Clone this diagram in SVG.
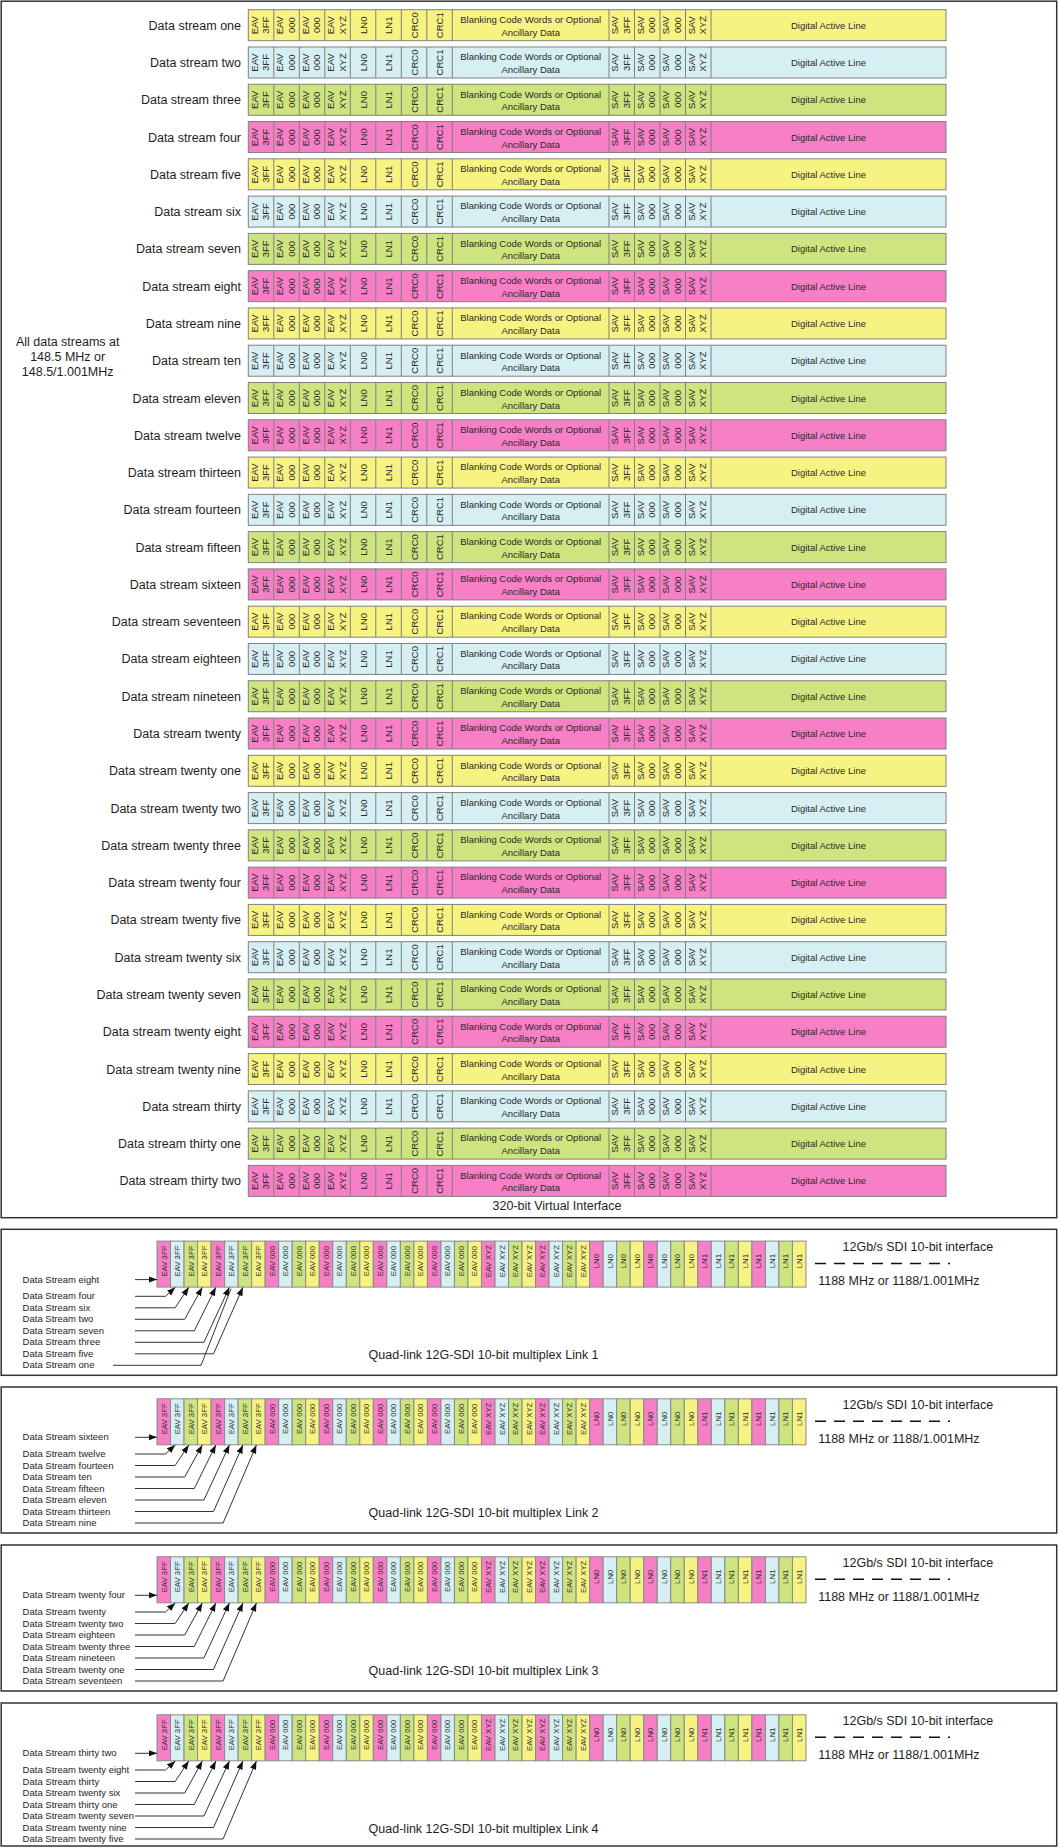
<svg xmlns="http://www.w3.org/2000/svg" xmlns:xlink="http://www.w3.org/1999/xlink" width="1059" height="1848" viewBox="0 0 1059 1848">
<defs>
<style>
text{font-family:"Liberation Sans",Arial,Helvetica,sans-serif;fill:#1e1e1e}
.lb{font-size:12.5px;text-anchor:end}
.big{font-size:12.5px}
.mid{text-anchor:middle}
.c{font-size:9.5px;text-anchor:middle;fill:#2a2a2a}
.v text{font-size:9.5px;text-anchor:middle;fill:#2a2a2a}
.vs text{font-size:7.8px;text-anchor:middle;fill:#2a2a2a}
.sm{font-size:9.5px}
.fr{fill:none;stroke:#333;stroke-width:1.5}
.r{stroke:#808080;stroke-width:1}
.dv{stroke:#808080;stroke-width:1;fill:none}
.y{fill:#f7f383}.b{fill:#d5eff3}.g{fill:#cee47e}.p{fill:#f67fc6}
.ld path{fill:none;stroke:#333;stroke-width:1}
.ar{marker-end:url(#ah)}
.dash{fill:none;stroke:#111;stroke-width:1.5;stroke-dasharray:11 8}
</style>
<marker id="ah" markerUnits="userSpaceOnUse" markerWidth="9" markerHeight="8" viewBox="-8.5 -4 9 8" refX="0" refY="0" orient="auto"><path d="M0 0L-8.5 -3.2L-8.5 3.2z" fill="#111"/></marker>
<path id="dv" class="dv" d="M273.8 0v31M299.3 0v31M324.8 0v31M350.3 0v31M375.8 0v31M401.3 0v31M426.8 0v31M452.3 0v31M609 0v31M634.5 0v31M660 0v31M685.5 0v31M711 0v31"/>
<g id="mxc" stroke="#8a8a8a" stroke-width="1">
<rect class="p" x="157" y="11.8" width="13.52" height="46"/><rect class="b" x="170.52" y="11.8" width="13.52" height="46"/><rect class="g" x="184.04" y="11.8" width="13.52" height="46"/><rect class="y" x="197.56" y="11.8" width="13.52" height="46"/>
<rect class="p" x="211.08" y="11.8" width="13.52" height="46"/><rect class="b" x="224.6" y="11.8" width="13.52" height="46"/><rect class="g" x="238.12" y="11.8" width="13.52" height="46"/><rect class="y" x="251.64" y="11.8" width="13.52" height="46"/>
<rect class="p" x="265.16" y="11.8" width="13.52" height="46"/><rect class="b" x="278.68" y="11.8" width="13.52" height="46"/><rect class="g" x="292.2" y="11.8" width="13.52" height="46"/><rect class="y" x="305.72" y="11.8" width="13.52" height="46"/>
<rect class="p" x="319.24" y="11.8" width="13.52" height="46"/><rect class="b" x="332.76" y="11.8" width="13.52" height="46"/><rect class="g" x="346.28" y="11.8" width="13.52" height="46"/><rect class="y" x="359.8" y="11.8" width="13.52" height="46"/>
<rect class="p" x="373.32" y="11.8" width="13.52" height="46"/><rect class="b" x="386.84" y="11.8" width="13.52" height="46"/><rect class="g" x="400.36" y="11.8" width="13.52" height="46"/><rect class="y" x="413.88" y="11.8" width="13.52" height="46"/>
<rect class="p" x="427.4" y="11.8" width="13.52" height="46"/><rect class="b" x="440.92" y="11.8" width="13.52" height="46"/><rect class="g" x="454.44" y="11.8" width="13.52" height="46"/><rect class="y" x="467.96" y="11.8" width="13.52" height="46"/>
<rect class="p" x="481.48" y="11.8" width="13.52" height="46"/><rect class="b" x="495" y="11.8" width="13.52" height="46"/><rect class="g" x="508.52" y="11.8" width="13.52" height="46"/><rect class="y" x="522.04" y="11.8" width="13.52" height="46"/>
<rect class="p" x="535.56" y="11.8" width="13.52" height="46"/><rect class="b" x="549.08" y="11.8" width="13.52" height="46"/><rect class="g" x="562.6" y="11.8" width="13.52" height="46"/><rect class="y" x="576.12" y="11.8" width="13.52" height="46"/>
<rect class="p" x="589.64" y="11.8" width="13.52" height="46"/><rect class="b" x="603.16" y="11.8" width="13.52" height="46"/><rect class="g" x="616.68" y="11.8" width="13.52" height="46"/><rect class="y" x="630.2" y="11.8" width="13.52" height="46"/>
<rect class="p" x="643.72" y="11.8" width="13.52" height="46"/><rect class="b" x="657.24" y="11.8" width="13.52" height="46"/><rect class="g" x="670.76" y="11.8" width="13.52" height="46"/><rect class="y" x="684.28" y="11.8" width="13.52" height="46"/>
<rect class="p" x="697.8" y="11.8" width="13.52" height="46"/><rect class="b" x="711.32" y="11.8" width="13.52" height="46"/><rect class="g" x="724.84" y="11.8" width="13.52" height="46"/><rect class="y" x="738.36" y="11.8" width="13.52" height="46"/>
<rect class="p" x="751.88" y="11.8" width="13.52" height="46"/><rect class="b" x="765.4" y="11.8" width="13.52" height="46"/><rect class="g" x="778.92" y="11.8" width="13.52" height="46"/><rect class="y" x="792.44" y="11.8" width="13.52" height="46"/>
</g>
</defs>
<rect width="1059" height="1848" fill="#fff"/>
<g id="frames">
<rect class="fr" x="1.2" y="1.2" width="1055.5" height="1216.5"/>
<rect class="fr" x="1.2" y="1229.3" width="1055.5" height="146"/>
<rect class="fr" x="1.2" y="1387" width="1055.5" height="146"/>
<rect class="fr" x="1.2" y="1545" width="1055.5" height="146"/>
<rect class="fr" x="1.2" y="1703" width="1055.5" height="143"/>
</g>
<g id="virtual-interface">
<g id="rate-note"><text class="big mid" x="67.7" y="346.1">All data streams at</text><text class="big mid" x="67.7" y="361.1">148.5 MHz or</text><text class="big mid" x="67.7" y="376.1">148.5/1.001MHz</text></g>
<text id="vi-title" class="big mid" x="557" y="1209.5">320-bit Virtual Interface</text>

<g id="ds1" transform="translate(0,9.7)"><text class="lb" x="241" y="20">Data stream one</text><rect class="r y" x="248.3" width="697.7" height="31"/><use href="#dv"/><g class="v" transform="translate(0,15.5)rotate(-90)"><text y="257.7">EAV</text><text y="269.1">3FF</text><text y="283.2">EAV</text><text y="294.6">000</text><text y="308.7">EAV</text><text y="320.1">000</text><text y="334.2">EAV</text><text y="345.6">XYZ</text><text y="366.5">LN0</text><text y="392">LN1</text><text y="417.5">CRC0</text><text y="443">CRC1</text><text y="618.4">SAV</text><text y="629.8">3FF</text><text y="643.9">SAV</text><text y="655.3">000</text><text y="669.4">SAV</text><text y="680.8">000</text><text y="694.9">SAV</text><text y="706.3">XYZ</text></g><text class="c" x="530.7" y="13.3">Blanking Code Words or Optional</text><text class="c" x="530.7" y="26">Ancillary Data</text><text class="c" x="828.5" y="19">Digital Active Line</text></g>

<g id="ds2" transform="translate(0,46.98)"><text class="lb" x="241" y="20">Data stream two</text><rect class="r b" x="248.3" width="697.7" height="31"/><use href="#dv"/><g class="v" transform="translate(0,15.5)rotate(-90)"><text y="257.7">EAV</text><text y="269.1">3FF</text><text y="283.2">EAV</text><text y="294.6">000</text><text y="308.7">EAV</text><text y="320.1">000</text><text y="334.2">EAV</text><text y="345.6">XYZ</text><text y="366.5">LN0</text><text y="392">LN1</text><text y="417.5">CRC0</text><text y="443">CRC1</text><text y="618.4">SAV</text><text y="629.8">3FF</text><text y="643.9">SAV</text><text y="655.3">000</text><text y="669.4">SAV</text><text y="680.8">000</text><text y="694.9">SAV</text><text y="706.3">XYZ</text></g><text class="c" x="530.7" y="13.3">Blanking Code Words or Optional</text><text class="c" x="530.7" y="26">Ancillary Data</text><text class="c" x="828.5" y="19">Digital Active Line</text></g>

<g id="ds3" transform="translate(0,84.26)"><text class="lb" x="241" y="20">Data stream three</text><rect class="r g" x="248.3" width="697.7" height="31"/><use href="#dv"/><g class="v" transform="translate(0,15.5)rotate(-90)"><text y="257.7">EAV</text><text y="269.1">3FF</text><text y="283.2">EAV</text><text y="294.6">000</text><text y="308.7">EAV</text><text y="320.1">000</text><text y="334.2">EAV</text><text y="345.6">XYZ</text><text y="366.5">LN0</text><text y="392">LN1</text><text y="417.5">CRC0</text><text y="443">CRC1</text><text y="618.4">SAV</text><text y="629.8">3FF</text><text y="643.9">SAV</text><text y="655.3">000</text><text y="669.4">SAV</text><text y="680.8">000</text><text y="694.9">SAV</text><text y="706.3">XYZ</text></g><text class="c" x="530.7" y="13.3">Blanking Code Words or Optional</text><text class="c" x="530.7" y="26">Ancillary Data</text><text class="c" x="828.5" y="19">Digital Active Line</text></g>

<g id="ds4" transform="translate(0,121.54)"><text class="lb" x="241" y="20">Data stream four</text><rect class="r p" x="248.3" width="697.7" height="31"/><use href="#dv"/><g class="v" transform="translate(0,15.5)rotate(-90)"><text y="257.7">EAV</text><text y="269.1">3FF</text><text y="283.2">EAV</text><text y="294.6">000</text><text y="308.7">EAV</text><text y="320.1">000</text><text y="334.2">EAV</text><text y="345.6">XYZ</text><text y="366.5">LN0</text><text y="392">LN1</text><text y="417.5">CRC0</text><text y="443">CRC1</text><text y="618.4">SAV</text><text y="629.8">3FF</text><text y="643.9">SAV</text><text y="655.3">000</text><text y="669.4">SAV</text><text y="680.8">000</text><text y="694.9">SAV</text><text y="706.3">XYZ</text></g><text class="c" x="530.7" y="13.3">Blanking Code Words or Optional</text><text class="c" x="530.7" y="26">Ancillary Data</text><text class="c" x="828.5" y="19">Digital Active Line</text></g>

<g id="ds5" transform="translate(0,158.82)"><text class="lb" x="241" y="20">Data stream five</text><rect class="r y" x="248.3" width="697.7" height="31"/><use href="#dv"/><g class="v" transform="translate(0,15.5)rotate(-90)"><text y="257.7">EAV</text><text y="269.1">3FF</text><text y="283.2">EAV</text><text y="294.6">000</text><text y="308.7">EAV</text><text y="320.1">000</text><text y="334.2">EAV</text><text y="345.6">XYZ</text><text y="366.5">LN0</text><text y="392">LN1</text><text y="417.5">CRC0</text><text y="443">CRC1</text><text y="618.4">SAV</text><text y="629.8">3FF</text><text y="643.9">SAV</text><text y="655.3">000</text><text y="669.4">SAV</text><text y="680.8">000</text><text y="694.9">SAV</text><text y="706.3">XYZ</text></g><text class="c" x="530.7" y="13.3">Blanking Code Words or Optional</text><text class="c" x="530.7" y="26">Ancillary Data</text><text class="c" x="828.5" y="19">Digital Active Line</text></g>

<g id="ds6" transform="translate(0,196.1)"><text class="lb" x="241" y="20">Data stream six</text><rect class="r b" x="248.3" width="697.7" height="31"/><use href="#dv"/><g class="v" transform="translate(0,15.5)rotate(-90)"><text y="257.7">EAV</text><text y="269.1">3FF</text><text y="283.2">EAV</text><text y="294.6">000</text><text y="308.7">EAV</text><text y="320.1">000</text><text y="334.2">EAV</text><text y="345.6">XYZ</text><text y="366.5">LN0</text><text y="392">LN1</text><text y="417.5">CRC0</text><text y="443">CRC1</text><text y="618.4">SAV</text><text y="629.8">3FF</text><text y="643.9">SAV</text><text y="655.3">000</text><text y="669.4">SAV</text><text y="680.8">000</text><text y="694.9">SAV</text><text y="706.3">XYZ</text></g><text class="c" x="530.7" y="13.3">Blanking Code Words or Optional</text><text class="c" x="530.7" y="26">Ancillary Data</text><text class="c" x="828.5" y="19">Digital Active Line</text></g>

<g id="ds7" transform="translate(0,233.38)"><text class="lb" x="241" y="20">Data stream seven</text><rect class="r g" x="248.3" width="697.7" height="31"/><use href="#dv"/><g class="v" transform="translate(0,15.5)rotate(-90)"><text y="257.7">EAV</text><text y="269.1">3FF</text><text y="283.2">EAV</text><text y="294.6">000</text><text y="308.7">EAV</text><text y="320.1">000</text><text y="334.2">EAV</text><text y="345.6">XYZ</text><text y="366.5">LN0</text><text y="392">LN1</text><text y="417.5">CRC0</text><text y="443">CRC1</text><text y="618.4">SAV</text><text y="629.8">3FF</text><text y="643.9">SAV</text><text y="655.3">000</text><text y="669.4">SAV</text><text y="680.8">000</text><text y="694.9">SAV</text><text y="706.3">XYZ</text></g><text class="c" x="530.7" y="13.3">Blanking Code Words or Optional</text><text class="c" x="530.7" y="26">Ancillary Data</text><text class="c" x="828.5" y="19">Digital Active Line</text></g>

<g id="ds8" transform="translate(0,270.66)"><text class="lb" x="241" y="20">Data stream eight</text><rect class="r p" x="248.3" width="697.7" height="31"/><use href="#dv"/><g class="v" transform="translate(0,15.5)rotate(-90)"><text y="257.7">EAV</text><text y="269.1">3FF</text><text y="283.2">EAV</text><text y="294.6">000</text><text y="308.7">EAV</text><text y="320.1">000</text><text y="334.2">EAV</text><text y="345.6">XYZ</text><text y="366.5">LN0</text><text y="392">LN1</text><text y="417.5">CRC0</text><text y="443">CRC1</text><text y="618.4">SAV</text><text y="629.8">3FF</text><text y="643.9">SAV</text><text y="655.3">000</text><text y="669.4">SAV</text><text y="680.8">000</text><text y="694.9">SAV</text><text y="706.3">XYZ</text></g><text class="c" x="530.7" y="13.3">Blanking Code Words or Optional</text><text class="c" x="530.7" y="26">Ancillary Data</text><text class="c" x="828.5" y="19">Digital Active Line</text></g>

<g id="ds9" transform="translate(0,307.94)"><text class="lb" x="241" y="20">Data stream nine</text><rect class="r y" x="248.3" width="697.7" height="31"/><use href="#dv"/><g class="v" transform="translate(0,15.5)rotate(-90)"><text y="257.7">EAV</text><text y="269.1">3FF</text><text y="283.2">EAV</text><text y="294.6">000</text><text y="308.7">EAV</text><text y="320.1">000</text><text y="334.2">EAV</text><text y="345.6">XYZ</text><text y="366.5">LN0</text><text y="392">LN1</text><text y="417.5">CRC0</text><text y="443">CRC1</text><text y="618.4">SAV</text><text y="629.8">3FF</text><text y="643.9">SAV</text><text y="655.3">000</text><text y="669.4">SAV</text><text y="680.8">000</text><text y="694.9">SAV</text><text y="706.3">XYZ</text></g><text class="c" x="530.7" y="13.3">Blanking Code Words or Optional</text><text class="c" x="530.7" y="26">Ancillary Data</text><text class="c" x="828.5" y="19">Digital Active Line</text></g>

<g id="ds10" transform="translate(0,345.22)"><text class="lb" x="241" y="20">Data stream ten</text><rect class="r b" x="248.3" width="697.7" height="31"/><use href="#dv"/><g class="v" transform="translate(0,15.5)rotate(-90)"><text y="257.7">EAV</text><text y="269.1">3FF</text><text y="283.2">EAV</text><text y="294.6">000</text><text y="308.7">EAV</text><text y="320.1">000</text><text y="334.2">EAV</text><text y="345.6">XYZ</text><text y="366.5">LN0</text><text y="392">LN1</text><text y="417.5">CRC0</text><text y="443">CRC1</text><text y="618.4">SAV</text><text y="629.8">3FF</text><text y="643.9">SAV</text><text y="655.3">000</text><text y="669.4">SAV</text><text y="680.8">000</text><text y="694.9">SAV</text><text y="706.3">XYZ</text></g><text class="c" x="530.7" y="13.3">Blanking Code Words or Optional</text><text class="c" x="530.7" y="26">Ancillary Data</text><text class="c" x="828.5" y="19">Digital Active Line</text></g>

<g id="ds11" transform="translate(0,382.5)"><text class="lb" x="241" y="20">Data stream eleven</text><rect class="r g" x="248.3" width="697.7" height="31"/><use href="#dv"/><g class="v" transform="translate(0,15.5)rotate(-90)"><text y="257.7">EAV</text><text y="269.1">3FF</text><text y="283.2">EAV</text><text y="294.6">000</text><text y="308.7">EAV</text><text y="320.1">000</text><text y="334.2">EAV</text><text y="345.6">XYZ</text><text y="366.5">LN0</text><text y="392">LN1</text><text y="417.5">CRC0</text><text y="443">CRC1</text><text y="618.4">SAV</text><text y="629.8">3FF</text><text y="643.9">SAV</text><text y="655.3">000</text><text y="669.4">SAV</text><text y="680.8">000</text><text y="694.9">SAV</text><text y="706.3">XYZ</text></g><text class="c" x="530.7" y="13.3">Blanking Code Words or Optional</text><text class="c" x="530.7" y="26">Ancillary Data</text><text class="c" x="828.5" y="19">Digital Active Line</text></g>

<g id="ds12" transform="translate(0,419.78)"><text class="lb" x="241" y="20">Data stream twelve</text><rect class="r p" x="248.3" width="697.7" height="31"/><use href="#dv"/><g class="v" transform="translate(0,15.5)rotate(-90)"><text y="257.7">EAV</text><text y="269.1">3FF</text><text y="283.2">EAV</text><text y="294.6">000</text><text y="308.7">EAV</text><text y="320.1">000</text><text y="334.2">EAV</text><text y="345.6">XYZ</text><text y="366.5">LN0</text><text y="392">LN1</text><text y="417.5">CRC0</text><text y="443">CRC1</text><text y="618.4">SAV</text><text y="629.8">3FF</text><text y="643.9">SAV</text><text y="655.3">000</text><text y="669.4">SAV</text><text y="680.8">000</text><text y="694.9">SAV</text><text y="706.3">XYZ</text></g><text class="c" x="530.7" y="13.3">Blanking Code Words or Optional</text><text class="c" x="530.7" y="26">Ancillary Data</text><text class="c" x="828.5" y="19">Digital Active Line</text></g>

<g id="ds13" transform="translate(0,457.06)"><text class="lb" x="241" y="20">Data stream thirteen</text><rect class="r y" x="248.3" width="697.7" height="31"/><use href="#dv"/><g class="v" transform="translate(0,15.5)rotate(-90)"><text y="257.7">EAV</text><text y="269.1">3FF</text><text y="283.2">EAV</text><text y="294.6">000</text><text y="308.7">EAV</text><text y="320.1">000</text><text y="334.2">EAV</text><text y="345.6">XYZ</text><text y="366.5">LN0</text><text y="392">LN1</text><text y="417.5">CRC0</text><text y="443">CRC1</text><text y="618.4">SAV</text><text y="629.8">3FF</text><text y="643.9">SAV</text><text y="655.3">000</text><text y="669.4">SAV</text><text y="680.8">000</text><text y="694.9">SAV</text><text y="706.3">XYZ</text></g><text class="c" x="530.7" y="13.3">Blanking Code Words or Optional</text><text class="c" x="530.7" y="26">Ancillary Data</text><text class="c" x="828.5" y="19">Digital Active Line</text></g>

<g id="ds14" transform="translate(0,494.34)"><text class="lb" x="241" y="20">Data stream fourteen</text><rect class="r b" x="248.3" width="697.7" height="31"/><use href="#dv"/><g class="v" transform="translate(0,15.5)rotate(-90)"><text y="257.7">EAV</text><text y="269.1">3FF</text><text y="283.2">EAV</text><text y="294.6">000</text><text y="308.7">EAV</text><text y="320.1">000</text><text y="334.2">EAV</text><text y="345.6">XYZ</text><text y="366.5">LN0</text><text y="392">LN1</text><text y="417.5">CRC0</text><text y="443">CRC1</text><text y="618.4">SAV</text><text y="629.8">3FF</text><text y="643.9">SAV</text><text y="655.3">000</text><text y="669.4">SAV</text><text y="680.8">000</text><text y="694.9">SAV</text><text y="706.3">XYZ</text></g><text class="c" x="530.7" y="13.3">Blanking Code Words or Optional</text><text class="c" x="530.7" y="26">Ancillary Data</text><text class="c" x="828.5" y="19">Digital Active Line</text></g>

<g id="ds15" transform="translate(0,531.62)"><text class="lb" x="241" y="20">Data stream fifteen</text><rect class="r g" x="248.3" width="697.7" height="31"/><use href="#dv"/><g class="v" transform="translate(0,15.5)rotate(-90)"><text y="257.7">EAV</text><text y="269.1">3FF</text><text y="283.2">EAV</text><text y="294.6">000</text><text y="308.7">EAV</text><text y="320.1">000</text><text y="334.2">EAV</text><text y="345.6">XYZ</text><text y="366.5">LN0</text><text y="392">LN1</text><text y="417.5">CRC0</text><text y="443">CRC1</text><text y="618.4">SAV</text><text y="629.8">3FF</text><text y="643.9">SAV</text><text y="655.3">000</text><text y="669.4">SAV</text><text y="680.8">000</text><text y="694.9">SAV</text><text y="706.3">XYZ</text></g><text class="c" x="530.7" y="13.3">Blanking Code Words or Optional</text><text class="c" x="530.7" y="26">Ancillary Data</text><text class="c" x="828.5" y="19">Digital Active Line</text></g>

<g id="ds16" transform="translate(0,568.9)"><text class="lb" x="241" y="20">Data stream sixteen</text><rect class="r p" x="248.3" width="697.7" height="31"/><use href="#dv"/><g class="v" transform="translate(0,15.5)rotate(-90)"><text y="257.7">EAV</text><text y="269.1">3FF</text><text y="283.2">EAV</text><text y="294.6">000</text><text y="308.7">EAV</text><text y="320.1">000</text><text y="334.2">EAV</text><text y="345.6">XYZ</text><text y="366.5">LN0</text><text y="392">LN1</text><text y="417.5">CRC0</text><text y="443">CRC1</text><text y="618.4">SAV</text><text y="629.8">3FF</text><text y="643.9">SAV</text><text y="655.3">000</text><text y="669.4">SAV</text><text y="680.8">000</text><text y="694.9">SAV</text><text y="706.3">XYZ</text></g><text class="c" x="530.7" y="13.3">Blanking Code Words or Optional</text><text class="c" x="530.7" y="26">Ancillary Data</text><text class="c" x="828.5" y="19">Digital Active Line</text></g>

<g id="ds17" transform="translate(0,606.18)"><text class="lb" x="241" y="20">Data stream seventeen</text><rect class="r y" x="248.3" width="697.7" height="31"/><use href="#dv"/><g class="v" transform="translate(0,15.5)rotate(-90)"><text y="257.7">EAV</text><text y="269.1">3FF</text><text y="283.2">EAV</text><text y="294.6">000</text><text y="308.7">EAV</text><text y="320.1">000</text><text y="334.2">EAV</text><text y="345.6">XYZ</text><text y="366.5">LN0</text><text y="392">LN1</text><text y="417.5">CRC0</text><text y="443">CRC1</text><text y="618.4">SAV</text><text y="629.8">3FF</text><text y="643.9">SAV</text><text y="655.3">000</text><text y="669.4">SAV</text><text y="680.8">000</text><text y="694.9">SAV</text><text y="706.3">XYZ</text></g><text class="c" x="530.7" y="13.3">Blanking Code Words or Optional</text><text class="c" x="530.7" y="26">Ancillary Data</text><text class="c" x="828.5" y="19">Digital Active Line</text></g>

<g id="ds18" transform="translate(0,643.46)"><text class="lb" x="241" y="20">Data stream eighteen</text><rect class="r b" x="248.3" width="697.7" height="31"/><use href="#dv"/><g class="v" transform="translate(0,15.5)rotate(-90)"><text y="257.7">EAV</text><text y="269.1">3FF</text><text y="283.2">EAV</text><text y="294.6">000</text><text y="308.7">EAV</text><text y="320.1">000</text><text y="334.2">EAV</text><text y="345.6">XYZ</text><text y="366.5">LN0</text><text y="392">LN1</text><text y="417.5">CRC0</text><text y="443">CRC1</text><text y="618.4">SAV</text><text y="629.8">3FF</text><text y="643.9">SAV</text><text y="655.3">000</text><text y="669.4">SAV</text><text y="680.8">000</text><text y="694.9">SAV</text><text y="706.3">XYZ</text></g><text class="c" x="530.7" y="13.3">Blanking Code Words or Optional</text><text class="c" x="530.7" y="26">Ancillary Data</text><text class="c" x="828.5" y="19">Digital Active Line</text></g>

<g id="ds19" transform="translate(0,680.74)"><text class="lb" x="241" y="20">Data stream nineteen</text><rect class="r g" x="248.3" width="697.7" height="31"/><use href="#dv"/><g class="v" transform="translate(0,15.5)rotate(-90)"><text y="257.7">EAV</text><text y="269.1">3FF</text><text y="283.2">EAV</text><text y="294.6">000</text><text y="308.7">EAV</text><text y="320.1">000</text><text y="334.2">EAV</text><text y="345.6">XYZ</text><text y="366.5">LN0</text><text y="392">LN1</text><text y="417.5">CRC0</text><text y="443">CRC1</text><text y="618.4">SAV</text><text y="629.8">3FF</text><text y="643.9">SAV</text><text y="655.3">000</text><text y="669.4">SAV</text><text y="680.8">000</text><text y="694.9">SAV</text><text y="706.3">XYZ</text></g><text class="c" x="530.7" y="13.3">Blanking Code Words or Optional</text><text class="c" x="530.7" y="26">Ancillary Data</text><text class="c" x="828.5" y="19">Digital Active Line</text></g>

<g id="ds20" transform="translate(0,718.02)"><text class="lb" x="241" y="20">Data stream twenty</text><rect class="r p" x="248.3" width="697.7" height="31"/><use href="#dv"/><g class="v" transform="translate(0,15.5)rotate(-90)"><text y="257.7">EAV</text><text y="269.1">3FF</text><text y="283.2">EAV</text><text y="294.6">000</text><text y="308.7">EAV</text><text y="320.1">000</text><text y="334.2">EAV</text><text y="345.6">XYZ</text><text y="366.5">LN0</text><text y="392">LN1</text><text y="417.5">CRC0</text><text y="443">CRC1</text><text y="618.4">SAV</text><text y="629.8">3FF</text><text y="643.9">SAV</text><text y="655.3">000</text><text y="669.4">SAV</text><text y="680.8">000</text><text y="694.9">SAV</text><text y="706.3">XYZ</text></g><text class="c" x="530.7" y="13.3">Blanking Code Words or Optional</text><text class="c" x="530.7" y="26">Ancillary Data</text><text class="c" x="828.5" y="19">Digital Active Line</text></g>

<g id="ds21" transform="translate(0,755.3)"><text class="lb" x="241" y="20">Data stream twenty one</text><rect class="r y" x="248.3" width="697.7" height="31"/><use href="#dv"/><g class="v" transform="translate(0,15.5)rotate(-90)"><text y="257.7">EAV</text><text y="269.1">3FF</text><text y="283.2">EAV</text><text y="294.6">000</text><text y="308.7">EAV</text><text y="320.1">000</text><text y="334.2">EAV</text><text y="345.6">XYZ</text><text y="366.5">LN0</text><text y="392">LN1</text><text y="417.5">CRC0</text><text y="443">CRC1</text><text y="618.4">SAV</text><text y="629.8">3FF</text><text y="643.9">SAV</text><text y="655.3">000</text><text y="669.4">SAV</text><text y="680.8">000</text><text y="694.9">SAV</text><text y="706.3">XYZ</text></g><text class="c" x="530.7" y="13.3">Blanking Code Words or Optional</text><text class="c" x="530.7" y="26">Ancillary Data</text><text class="c" x="828.5" y="19">Digital Active Line</text></g>

<g id="ds22" transform="translate(0,792.58)"><text class="lb" x="241" y="20">Data stream twenty two</text><rect class="r b" x="248.3" width="697.7" height="31"/><use href="#dv"/><g class="v" transform="translate(0,15.5)rotate(-90)"><text y="257.7">EAV</text><text y="269.1">3FF</text><text y="283.2">EAV</text><text y="294.6">000</text><text y="308.7">EAV</text><text y="320.1">000</text><text y="334.2">EAV</text><text y="345.6">XYZ</text><text y="366.5">LN0</text><text y="392">LN1</text><text y="417.5">CRC0</text><text y="443">CRC1</text><text y="618.4">SAV</text><text y="629.8">3FF</text><text y="643.9">SAV</text><text y="655.3">000</text><text y="669.4">SAV</text><text y="680.8">000</text><text y="694.9">SAV</text><text y="706.3">XYZ</text></g><text class="c" x="530.7" y="13.3">Blanking Code Words or Optional</text><text class="c" x="530.7" y="26">Ancillary Data</text><text class="c" x="828.5" y="19">Digital Active Line</text></g>

<g id="ds23" transform="translate(0,829.86)"><text class="lb" x="241" y="20">Data stream twenty three</text><rect class="r g" x="248.3" width="697.7" height="31"/><use href="#dv"/><g class="v" transform="translate(0,15.5)rotate(-90)"><text y="257.7">EAV</text><text y="269.1">3FF</text><text y="283.2">EAV</text><text y="294.6">000</text><text y="308.7">EAV</text><text y="320.1">000</text><text y="334.2">EAV</text><text y="345.6">XYZ</text><text y="366.5">LN0</text><text y="392">LN1</text><text y="417.5">CRC0</text><text y="443">CRC1</text><text y="618.4">SAV</text><text y="629.8">3FF</text><text y="643.9">SAV</text><text y="655.3">000</text><text y="669.4">SAV</text><text y="680.8">000</text><text y="694.9">SAV</text><text y="706.3">XYZ</text></g><text class="c" x="530.7" y="13.3">Blanking Code Words or Optional</text><text class="c" x="530.7" y="26">Ancillary Data</text><text class="c" x="828.5" y="19">Digital Active Line</text></g>

<g id="ds24" transform="translate(0,867.14)"><text class="lb" x="241" y="20">Data stream twenty four</text><rect class="r p" x="248.3" width="697.7" height="31"/><use href="#dv"/><g class="v" transform="translate(0,15.5)rotate(-90)"><text y="257.7">EAV</text><text y="269.1">3FF</text><text y="283.2">EAV</text><text y="294.6">000</text><text y="308.7">EAV</text><text y="320.1">000</text><text y="334.2">EAV</text><text y="345.6">XYZ</text><text y="366.5">LN0</text><text y="392">LN1</text><text y="417.5">CRC0</text><text y="443">CRC1</text><text y="618.4">SAV</text><text y="629.8">3FF</text><text y="643.9">SAV</text><text y="655.3">000</text><text y="669.4">SAV</text><text y="680.8">000</text><text y="694.9">SAV</text><text y="706.3">XYZ</text></g><text class="c" x="530.7" y="13.3">Blanking Code Words or Optional</text><text class="c" x="530.7" y="26">Ancillary Data</text><text class="c" x="828.5" y="19">Digital Active Line</text></g>

<g id="ds25" transform="translate(0,904.42)"><text class="lb" x="241" y="20">Data stream twenty five</text><rect class="r y" x="248.3" width="697.7" height="31"/><use href="#dv"/><g class="v" transform="translate(0,15.5)rotate(-90)"><text y="257.7">EAV</text><text y="269.1">3FF</text><text y="283.2">EAV</text><text y="294.6">000</text><text y="308.7">EAV</text><text y="320.1">000</text><text y="334.2">EAV</text><text y="345.6">XYZ</text><text y="366.5">LN0</text><text y="392">LN1</text><text y="417.5">CRC0</text><text y="443">CRC1</text><text y="618.4">SAV</text><text y="629.8">3FF</text><text y="643.9">SAV</text><text y="655.3">000</text><text y="669.4">SAV</text><text y="680.8">000</text><text y="694.9">SAV</text><text y="706.3">XYZ</text></g><text class="c" x="530.7" y="13.3">Blanking Code Words or Optional</text><text class="c" x="530.7" y="26">Ancillary Data</text><text class="c" x="828.5" y="19">Digital Active Line</text></g>

<g id="ds26" transform="translate(0,941.7)"><text class="lb" x="241" y="20">Data stream twenty six</text><rect class="r b" x="248.3" width="697.7" height="31"/><use href="#dv"/><g class="v" transform="translate(0,15.5)rotate(-90)"><text y="257.7">EAV</text><text y="269.1">3FF</text><text y="283.2">EAV</text><text y="294.6">000</text><text y="308.7">EAV</text><text y="320.1">000</text><text y="334.2">EAV</text><text y="345.6">XYZ</text><text y="366.5">LN0</text><text y="392">LN1</text><text y="417.5">CRC0</text><text y="443">CRC1</text><text y="618.4">SAV</text><text y="629.8">3FF</text><text y="643.9">SAV</text><text y="655.3">000</text><text y="669.4">SAV</text><text y="680.8">000</text><text y="694.9">SAV</text><text y="706.3">XYZ</text></g><text class="c" x="530.7" y="13.3">Blanking Code Words or Optional</text><text class="c" x="530.7" y="26">Ancillary Data</text><text class="c" x="828.5" y="19">Digital Active Line</text></g>

<g id="ds27" transform="translate(0,978.98)"><text class="lb" x="241" y="20">Data stream twenty seven</text><rect class="r g" x="248.3" width="697.7" height="31"/><use href="#dv"/><g class="v" transform="translate(0,15.5)rotate(-90)"><text y="257.7">EAV</text><text y="269.1">3FF</text><text y="283.2">EAV</text><text y="294.6">000</text><text y="308.7">EAV</text><text y="320.1">000</text><text y="334.2">EAV</text><text y="345.6">XYZ</text><text y="366.5">LN0</text><text y="392">LN1</text><text y="417.5">CRC0</text><text y="443">CRC1</text><text y="618.4">SAV</text><text y="629.8">3FF</text><text y="643.9">SAV</text><text y="655.3">000</text><text y="669.4">SAV</text><text y="680.8">000</text><text y="694.9">SAV</text><text y="706.3">XYZ</text></g><text class="c" x="530.7" y="13.3">Blanking Code Words or Optional</text><text class="c" x="530.7" y="26">Ancillary Data</text><text class="c" x="828.5" y="19">Digital Active Line</text></g>

<g id="ds28" transform="translate(0,1016.26)"><text class="lb" x="241" y="20">Data stream twenty eight</text><rect class="r p" x="248.3" width="697.7" height="31"/><use href="#dv"/><g class="v" transform="translate(0,15.5)rotate(-90)"><text y="257.7">EAV</text><text y="269.1">3FF</text><text y="283.2">EAV</text><text y="294.6">000</text><text y="308.7">EAV</text><text y="320.1">000</text><text y="334.2">EAV</text><text y="345.6">XYZ</text><text y="366.5">LN0</text><text y="392">LN1</text><text y="417.5">CRC0</text><text y="443">CRC1</text><text y="618.4">SAV</text><text y="629.8">3FF</text><text y="643.9">SAV</text><text y="655.3">000</text><text y="669.4">SAV</text><text y="680.8">000</text><text y="694.9">SAV</text><text y="706.3">XYZ</text></g><text class="c" x="530.7" y="13.3">Blanking Code Words or Optional</text><text class="c" x="530.7" y="26">Ancillary Data</text><text class="c" x="828.5" y="19">Digital Active Line</text></g>

<g id="ds29" transform="translate(0,1053.54)"><text class="lb" x="241" y="20">Data stream twenty nine</text><rect class="r y" x="248.3" width="697.7" height="31"/><use href="#dv"/><g class="v" transform="translate(0,15.5)rotate(-90)"><text y="257.7">EAV</text><text y="269.1">3FF</text><text y="283.2">EAV</text><text y="294.6">000</text><text y="308.7">EAV</text><text y="320.1">000</text><text y="334.2">EAV</text><text y="345.6">XYZ</text><text y="366.5">LN0</text><text y="392">LN1</text><text y="417.5">CRC0</text><text y="443">CRC1</text><text y="618.4">SAV</text><text y="629.8">3FF</text><text y="643.9">SAV</text><text y="655.3">000</text><text y="669.4">SAV</text><text y="680.8">000</text><text y="694.9">SAV</text><text y="706.3">XYZ</text></g><text class="c" x="530.7" y="13.3">Blanking Code Words or Optional</text><text class="c" x="530.7" y="26">Ancillary Data</text><text class="c" x="828.5" y="19">Digital Active Line</text></g>

<g id="ds30" transform="translate(0,1090.82)"><text class="lb" x="241" y="20">Data stream thirty</text><rect class="r b" x="248.3" width="697.7" height="31"/><use href="#dv"/><g class="v" transform="translate(0,15.5)rotate(-90)"><text y="257.7">EAV</text><text y="269.1">3FF</text><text y="283.2">EAV</text><text y="294.6">000</text><text y="308.7">EAV</text><text y="320.1">000</text><text y="334.2">EAV</text><text y="345.6">XYZ</text><text y="366.5">LN0</text><text y="392">LN1</text><text y="417.5">CRC0</text><text y="443">CRC1</text><text y="618.4">SAV</text><text y="629.8">3FF</text><text y="643.9">SAV</text><text y="655.3">000</text><text y="669.4">SAV</text><text y="680.8">000</text><text y="694.9">SAV</text><text y="706.3">XYZ</text></g><text class="c" x="530.7" y="13.3">Blanking Code Words or Optional</text><text class="c" x="530.7" y="26">Ancillary Data</text><text class="c" x="828.5" y="19">Digital Active Line</text></g>

<g id="ds31" transform="translate(0,1128.1)"><text class="lb" x="241" y="20">Data stream thirty one</text><rect class="r g" x="248.3" width="697.7" height="31"/><use href="#dv"/><g class="v" transform="translate(0,15.5)rotate(-90)"><text y="257.7">EAV</text><text y="269.1">3FF</text><text y="283.2">EAV</text><text y="294.6">000</text><text y="308.7">EAV</text><text y="320.1">000</text><text y="334.2">EAV</text><text y="345.6">XYZ</text><text y="366.5">LN0</text><text y="392">LN1</text><text y="417.5">CRC0</text><text y="443">CRC1</text><text y="618.4">SAV</text><text y="629.8">3FF</text><text y="643.9">SAV</text><text y="655.3">000</text><text y="669.4">SAV</text><text y="680.8">000</text><text y="694.9">SAV</text><text y="706.3">XYZ</text></g><text class="c" x="530.7" y="13.3">Blanking Code Words or Optional</text><text class="c" x="530.7" y="26">Ancillary Data</text><text class="c" x="828.5" y="19">Digital Active Line</text></g>

<g id="ds32" transform="translate(0,1165.38)"><text class="lb" x="241" y="20">Data stream thirty two</text><rect class="r p" x="248.3" width="697.7" height="31"/><use href="#dv"/><g class="v" transform="translate(0,15.5)rotate(-90)"><text y="257.7">EAV</text><text y="269.1">3FF</text><text y="283.2">EAV</text><text y="294.6">000</text><text y="308.7">EAV</text><text y="320.1">000</text><text y="334.2">EAV</text><text y="345.6">XYZ</text><text y="366.5">LN0</text><text y="392">LN1</text><text y="417.5">CRC0</text><text y="443">CRC1</text><text y="618.4">SAV</text><text y="629.8">3FF</text><text y="643.9">SAV</text><text y="655.3">000</text><text y="669.4">SAV</text><text y="680.8">000</text><text y="694.9">SAV</text><text y="706.3">XYZ</text></g><text class="c" x="530.7" y="13.3">Blanking Code Words or Optional</text><text class="c" x="530.7" y="26">Ancillary Data</text><text class="c" x="828.5" y="19">Digital Active Line</text></g>
</g>

<g id="link1" transform="translate(0,1229.3)">
<use href="#mxc"/>
<g class="vs" transform="translate(0,31.8)rotate(-90)"><text y="166.5">EAV 3FF</text><text y="180.02">EAV 3FF</text><text y="193.54">EAV 3FF</text><text y="207.06">EAV 3FF</text><text y="220.58">EAV 3FF</text><text y="234.1">EAV 3FF</text><text y="247.62">EAV 3FF</text><text y="261.14">EAV 3FF</text><text y="274.66">EAV 000</text><text y="288.18">EAV 000</text><text y="301.7">EAV 000</text><text y="315.22">EAV 000</text><text y="328.74">EAV 000</text><text y="342.26">EAV 000</text><text y="355.78">EAV 000</text><text y="369.3">EAV 000</text><text y="382.82">EAV 000</text><text y="396.34">EAV 000</text><text y="409.86">EAV 000</text><text y="423.38">EAV 000</text><text y="436.9">EAV 000</text><text y="450.42">EAV 000</text><text y="463.94">EAV 000</text><text y="477.46">EAV 000</text><text y="490.98">EAV XYZ</text><text y="504.5">EAV XYZ</text><text y="518.02">EAV XYZ</text><text y="531.54">EAV XYZ</text><text y="545.06">EAV XYZ</text><text y="558.58">EAV XYZ</text><text y="572.1">EAV XYZ</text><text y="585.62">EAV XYZ</text><text y="599.14">LN0</text><text y="612.66">LN0</text><text y="626.18">LN0</text><text y="639.7">LN0</text><text y="653.22">LN0</text><text y="666.74">LN0</text><text y="680.26">LN0</text><text y="693.78">LN0</text><text y="707.3">LN1</text><text y="720.82">LN1</text><text y="734.34">LN1</text><text y="747.86">LN1</text><text y="761.38">LN1</text><text y="774.9">LN1</text><text y="788.42">LN1</text><text y="801.94">LN1</text></g>
<g class="sm"><text x="22.6" y="53.3">Data Stream eight</text><text x="22.6" y="70.2">Data Stream four</text><text x="22.6" y="81.7">Data Stream six</text><text x="22.6" y="93.2">Data Stream two</text><text x="22.6" y="104.7">Data Stream seven</text><text x="22.6" y="116.2">Data Stream three</text><text x="22.6" y="127.7">Data Stream five</text><text x="22.6" y="139.2">Data Stream one</text></g>
<g id="link1-connectors" class="ld"><path class="ar" d="M135 50.3H157"/><path class="ar" d="M135 67H165.5L175.3 58"/><path class="ar" d="M135 78.5H175.1L188.8 58"/><path class="ar" d="M135 90H184.7L202.3 58"/><path class="ar" d="M135 101.5H194.3L215.8 58"/><path class="ar" d="M135 113H203.9L229.4 58"/><path class="ar" d="M135 124.5H213.5L242.9 58"/><path d="M113 136H201L231 59.5"/></g>
<text class="big" x="842.5" y="21.8">12Gb/s SDI 10-bit interface</text>
<path class="dash" d="M815 34.2H950"/>
<text class="big" x="818.2" y="56.2">1188 MHz or 1188/1.001MHz</text>
<text class="big mid" x="483.6" y="129.9">Quad-link 12G-SDI 10-bit multiplex Link 1</text>
</g>

<g id="link2" transform="translate(0,1387)">
<use href="#mxc"/>
<g class="vs" transform="translate(0,31.8)rotate(-90)"><text y="166.5">EAV 3FF</text><text y="180.02">EAV 3FF</text><text y="193.54">EAV 3FF</text><text y="207.06">EAV 3FF</text><text y="220.58">EAV 3FF</text><text y="234.1">EAV 3FF</text><text y="247.62">EAV 3FF</text><text y="261.14">EAV 3FF</text><text y="274.66">EAV 000</text><text y="288.18">EAV 000</text><text y="301.7">EAV 000</text><text y="315.22">EAV 000</text><text y="328.74">EAV 000</text><text y="342.26">EAV 000</text><text y="355.78">EAV 000</text><text y="369.3">EAV 000</text><text y="382.82">EAV 000</text><text y="396.34">EAV 000</text><text y="409.86">EAV 000</text><text y="423.38">EAV 000</text><text y="436.9">EAV 000</text><text y="450.42">EAV 000</text><text y="463.94">EAV 000</text><text y="477.46">EAV 000</text><text y="490.98">EAV XYZ</text><text y="504.5">EAV XYZ</text><text y="518.02">EAV XYZ</text><text y="531.54">EAV XYZ</text><text y="545.06">EAV XYZ</text><text y="558.58">EAV XYZ</text><text y="572.1">EAV XYZ</text><text y="585.62">EAV XYZ</text><text y="599.14">LN0</text><text y="612.66">LN0</text><text y="626.18">LN0</text><text y="639.7">LN0</text><text y="653.22">LN0</text><text y="666.74">LN0</text><text y="680.26">LN0</text><text y="693.78">LN0</text><text y="707.3">LN1</text><text y="720.82">LN1</text><text y="734.34">LN1</text><text y="747.86">LN1</text><text y="761.38">LN1</text><text y="774.9">LN1</text><text y="788.42">LN1</text><text y="801.94">LN1</text></g>
<g class="sm"><text x="22.6" y="53.3">Data Stream sixteen</text><text x="22.6" y="70.2">Data Stream twelve</text><text x="22.6" y="81.7">Data Stream fourteen</text><text x="22.6" y="93.2">Data Stream ten</text><text x="22.6" y="104.7">Data Stream fifteen</text><text x="22.6" y="116.2">Data Stream eleven</text><text x="22.6" y="127.7">Data Stream thirteen</text><text x="22.6" y="139.2">Data Stream nine</text></g>
<g id="link2-connectors" class="ld"><path class="ar" d="M135 50.3H157"/><path class="ar" d="M135 67H165.5L175.3 58"/><path class="ar" d="M135 78.5H175.1L188.8 58"/><path class="ar" d="M135 90H184.7L202.3 58"/><path class="ar" d="M135 101.5H194.3L215.8 58"/><path class="ar" d="M135 113H203.9L229.4 58"/><path class="ar" d="M135 124.5H213.5L242.9 58"/><path class="ar" d="M135 136H223.1L256.4 58"/></g>
<text class="big" x="842.5" y="21.8">12Gb/s SDI 10-bit interface</text>
<path class="dash" d="M815 34.2H950"/>
<text class="big" x="818.2" y="56.2">1188 MHz or 1188/1.001MHz</text>
<text class="big mid" x="483.6" y="129.9">Quad-link 12G-SDI 10-bit multiplex Link 2</text>
</g>

<g id="link3" transform="translate(0,1545)">
<use href="#mxc"/>
<g class="vs" transform="translate(0,31.8)rotate(-90)"><text y="166.5">EAV 3FF</text><text y="180.02">EAV 3FF</text><text y="193.54">EAV 3FF</text><text y="207.06">EAV 3FF</text><text y="220.58">EAV 3FF</text><text y="234.1">EAV 3FF</text><text y="247.62">EAV 3FF</text><text y="261.14">EAV 3FF</text><text y="274.66">EAV 000</text><text y="288.18">EAV 000</text><text y="301.7">EAV 000</text><text y="315.22">EAV 000</text><text y="328.74">EAV 000</text><text y="342.26">EAV 000</text><text y="355.78">EAV 000</text><text y="369.3">EAV 000</text><text y="382.82">EAV 000</text><text y="396.34">EAV 000</text><text y="409.86">EAV 000</text><text y="423.38">EAV 000</text><text y="436.9">EAV 000</text><text y="450.42">EAV 000</text><text y="463.94">EAV 000</text><text y="477.46">EAV 000</text><text y="490.98">EAV XYZ</text><text y="504.5">EAV XYZ</text><text y="518.02">EAV XYZ</text><text y="531.54">EAV XYZ</text><text y="545.06">EAV XYZ</text><text y="558.58">EAV XYZ</text><text y="572.1">EAV XYZ</text><text y="585.62">EAV XYZ</text><text y="599.14">LN0</text><text y="612.66">LN0</text><text y="626.18">LN0</text><text y="639.7">LN0</text><text y="653.22">LN0</text><text y="666.74">LN0</text><text y="680.26">LN0</text><text y="693.78">LN0</text><text y="707.3">LN1</text><text y="720.82">LN1</text><text y="734.34">LN1</text><text y="747.86">LN1</text><text y="761.38">LN1</text><text y="774.9">LN1</text><text y="788.42">LN1</text><text y="801.94">LN1</text></g>
<g class="sm"><text x="22.6" y="53.3">Data Stream twenty four</text><text x="22.6" y="70.2">Data Stream twenty</text><text x="22.6" y="81.7">Data Stream twenty two</text><text x="22.6" y="93.2">Data Stream eighteen</text><text x="22.6" y="104.7">Data Stream twenty three</text><text x="22.6" y="116.2">Data Stream nineteen</text><text x="22.6" y="127.7">Data Stream twenty one</text><text x="22.6" y="139.2">Data Stream seventeen</text></g>
<g id="link3-connectors" class="ld"><path class="ar" d="M135 50.3H157"/><path class="ar" d="M135 67H165.5L175.3 58"/><path class="ar" d="M135 78.5H175.1L188.8 58"/><path class="ar" d="M135 90H184.7L202.3 58"/><path class="ar" d="M135 101.5H194.3L215.8 58"/><path class="ar" d="M135 113H203.9L229.4 58"/><path class="ar" d="M135 124.5H213.5L242.9 58"/><path class="ar" d="M135 136H223.1L256.4 58"/></g>
<text class="big" x="842.5" y="21.8">12Gb/s SDI 10-bit interface</text>
<path class="dash" d="M815 34.2H950"/>
<text class="big" x="818.2" y="56.2">1188 MHz or 1188/1.001MHz</text>
<text class="big mid" x="483.6" y="129.9">Quad-link 12G-SDI 10-bit multiplex Link 3</text>
</g>

<g id="link4" transform="translate(0,1703)">
<use href="#mxc"/>
<g class="vs" transform="translate(0,31.8)rotate(-90)"><text y="166.5">EAV 3FF</text><text y="180.02">EAV 3FF</text><text y="193.54">EAV 3FF</text><text y="207.06">EAV 3FF</text><text y="220.58">EAV 3FF</text><text y="234.1">EAV 3FF</text><text y="247.62">EAV 3FF</text><text y="261.14">EAV 3FF</text><text y="274.66">EAV 000</text><text y="288.18">EAV 000</text><text y="301.7">EAV 000</text><text y="315.22">EAV 000</text><text y="328.74">EAV 000</text><text y="342.26">EAV 000</text><text y="355.78">EAV 000</text><text y="369.3">EAV 000</text><text y="382.82">EAV 000</text><text y="396.34">EAV 000</text><text y="409.86">EAV 000</text><text y="423.38">EAV 000</text><text y="436.9">EAV 000</text><text y="450.42">EAV 000</text><text y="463.94">EAV 000</text><text y="477.46">EAV 000</text><text y="490.98">EAV XYZ</text><text y="504.5">EAV XYZ</text><text y="518.02">EAV XYZ</text><text y="531.54">EAV XYZ</text><text y="545.06">EAV XYZ</text><text y="558.58">EAV XYZ</text><text y="572.1">EAV XYZ</text><text y="585.62">EAV XYZ</text><text y="599.14">LN0</text><text y="612.66">LN0</text><text y="626.18">LN0</text><text y="639.7">LN0</text><text y="653.22">LN0</text><text y="666.74">LN0</text><text y="680.26">LN0</text><text y="693.78">LN0</text><text y="707.3">LN1</text><text y="720.82">LN1</text><text y="734.34">LN1</text><text y="747.86">LN1</text><text y="761.38">LN1</text><text y="774.9">LN1</text><text y="788.42">LN1</text><text y="801.94">LN1</text></g>
<g class="sm"><text x="22.6" y="53.3">Data Stream thirty two</text><text x="22.6" y="70.2">Data Stream twenty eight</text><text x="22.6" y="81.7">Data Stream thirty</text><text x="22.6" y="93.2">Data Stream twenty six</text><text x="22.6" y="104.7">Data Stream thirty one</text><text x="22.6" y="116.2">Data Stream twenty seven</text><text x="22.6" y="127.7">Data Stream twenty nine</text><text x="22.6" y="139.2">Data Stream twenty five</text></g>
<g id="link4-connectors" class="ld"><path class="ar" d="M135 50.3H157"/><path class="ar" d="M135 67H165.5L175.3 58"/><path class="ar" d="M135 78.5H175.1L188.8 58"/><path class="ar" d="M135 90H184.7L202.3 58"/><path class="ar" d="M135 101.5H194.3L215.8 58"/><path class="ar" d="M135 113H203.9L229.4 58"/><path class="ar" d="M135 124.5H213.5L242.9 58"/><path class="ar" d="M135 136H223.1L256.4 58"/></g>
<text class="big" x="842.5" y="21.8">12Gb/s SDI 10-bit interface</text>
<path class="dash" d="M815 34.2H950"/>
<text class="big" x="818.2" y="56.2">1188 MHz or 1188/1.001MHz</text>
<text class="big mid" x="483.6" y="129.9">Quad-link 12G-SDI 10-bit multiplex Link 4</text>
</g>
</svg>
